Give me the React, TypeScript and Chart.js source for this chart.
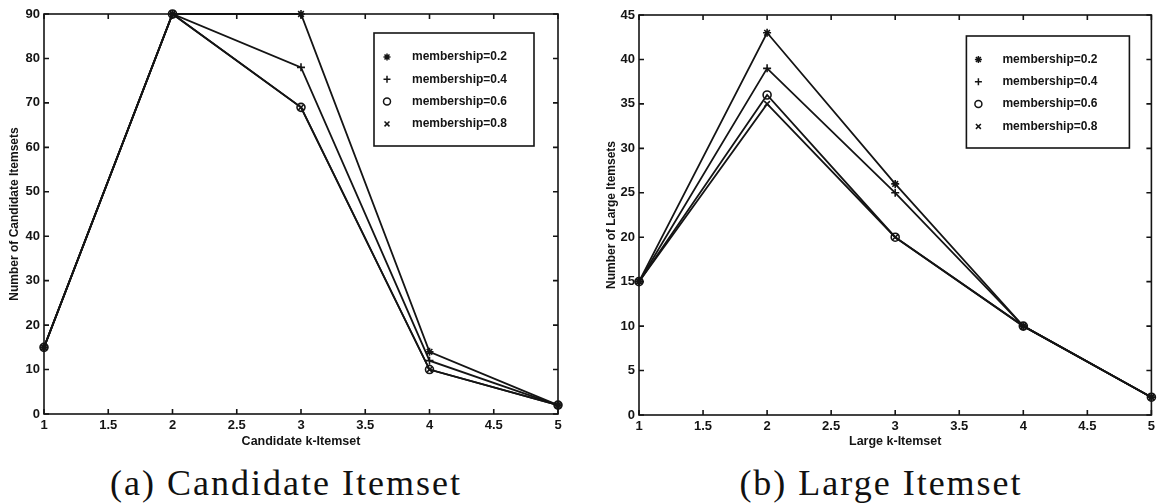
import React, { useEffect, useRef } from "react";
import { Chart, registerables } from "chart.js";
import { drawPoint } from "chart.js/helpers";

Chart.register(...registerables);

// ---------- data ----------
const kValues = [1, 2, 3, 4, 5];
const seriesLabels = ["membership=0.2", "membership=0.4", "membership=0.6", "membership=0.8"];
const markerStyles = ["star", "cross", "circle", "crossRot"];

const candidate02 = [15, 90, 90, 14, 2];
const candidate04 = [15, 90, 78, 12, 2];
const candidate06 = [15, 90, 69, 10, 2];
const candidate08 = [15, 90, 69, 10, 2];

const large02 = [15, 43, 26, 10, 2];
const large04 = [15, 39, 25, 10, 2];
const large06 = [15, 36, 20, 10, 2];
const large08 = [15, 35, 20, 10, 2];

const FONT = "'Liberation Sans', Arial, Helvetica, sans-serif";
const INK = "#141414";

const frameTicks = {
  id: "frameTicks",
  afterDatasetsDraw(chart: any) {
    const { ctx, chartArea: a, scales } = chart;
    const len = 5;
    ctx.save();
    ctx.strokeStyle = INK;
    ctx.lineWidth = 1.6;
    ctx.strokeRect(a.left, a.top, a.right - a.left, a.bottom - a.top);
    ctx.beginPath();
    scales.x.ticks.forEach((t: any) => {
      const px = scales.x.getPixelForValue(t.value);
      ctx.moveTo(px, a.bottom);
      ctx.lineTo(px, a.bottom - len);
      ctx.moveTo(px, a.top);
      ctx.lineTo(px, a.top + len);
    });
    scales.y.ticks.forEach((t: any) => {
      const py = scales.y.getPixelForValue(t.value);
      ctx.moveTo(a.left, py);
      ctx.lineTo(a.left + len, py);
      ctx.moveTo(a.right, py);
      ctx.lineTo(a.right - len, py);
    });
    ctx.stroke();
    ctx.restore();
  },
};

const boxLegend = {
  id: "boxLegend",
  afterDraw(chart: any, _args: any, opts: any) {
    const { ctx, chartArea: a } = chart;
    const left = a.right - opts.right - opts.width;
    const top = a.top + opts.top;
    ctx.save();
    ctx.fillStyle = "#fff";
    ctx.fillRect(left, top, opts.width, opts.height);
    ctx.strokeStyle = INK;
    ctx.lineWidth = 1.6;
    ctx.strokeRect(left, top, opts.width, opts.height);
    chart.data.datasets.forEach((ds: any, i: number) => {
      const y = top + opts.firstY + i * opts.spacing;
      ctx.strokeStyle = INK;
      ctx.fillStyle = "rgba(0,0,0,0)";
      ctx.lineWidth = 1.5;
      drawPoint(ctx, { pointStyle: ds.pointStyle, radius: 3.5, borderWidth: 1.5, rotation: 0 } as any, left + opts.markerX, y);
      ctx.fillStyle = INK;
      ctx.font = `bold 12px ${FONT}`;
      ctx.textBaseline = "middle";
      ctx.textAlign = "left";
      ctx.fillText(ds.label, left + opts.textX, y);
    });
    ctx.restore();
  },
};

type PanelProps = {
  series: number[][];
  yMax: number;
  yStep: number;
  yTitle: string;
  xTitle: string;
  left: number;
  width: number;
  height: number;
  padTop: number;
  padRight: number;
  yAxisWidth: number;
  xAxisHeight: number;
  yTitlePad: number;
  legend: any;
};

function Panel(p: PanelProps) {
  const ref = useRef<HTMLCanvasElement | null>(null);
  useEffect(() => {
    if (!ref.current) return;
    const tickFont = { family: FONT, size: 13, weight: "bold" as const };
    const chart = new Chart(ref.current, {
      type: "line",
      data: {
        datasets: p.series.map((vals, i) => ({
          label: seriesLabels[i],
          data: kValues.map((k, j) => ({ x: k, y: vals[j] })),
          borderColor: INK,
          borderWidth: 1.8,
          pointStyle: markerStyles[i] as any,
          pointRadius: 4,
          pointBorderColor: INK,
          pointBackgroundColor: "rgba(0,0,0,0)",
          pointBorderWidth: 1.6,
          fill: false,
          tension: 0,
          clip: false as any,
        })),
      },
      options: {
        responsive: false,
        animation: false,
        events: [],
        layout: { padding: { top: p.padTop, right: p.padRight, left: 0, bottom: 0 } },
        plugins: {
          legend: { display: false },
          tooltip: { enabled: false },
          boxLegend: p.legend,
        } as any,
        scales: {
          x: {
            type: "linear",
            min: 1,
            max: 5,
            ticks: {
              stepSize: 0.5,
              autoSkip: false,
              maxRotation: 0,
              color: INK,
              font: tickFont,
              padding: 4,
              callback: (v: any) => String(v),
            },
            grid: { display: false, drawTicks: false },
            border: { display: false },
            title: {
              display: true,
              text: p.xTitle,
              color: INK,
              font: { family: FONT, size: 12.5, weight: "bold" },
              padding: { top: 0, bottom: 11 },
            },
            afterFit: (s: any) => {
              s.height = p.xAxisHeight;
              s.paddingLeft = 0;
              s.paddingRight = 0;
            },
          },
          y: {
            type: "linear",
            min: 0,
            max: p.yMax,
            ticks: {
              stepSize: p.yStep,
              autoSkip: false,
              color: INK,
              font: tickFont,
              padding: 4,
            },
            grid: { display: false, drawTicks: false },
            border: { display: false },
            title: {
              display: true,
              text: p.yTitle,
              color: INK,
              font: { family: FONT, size: 12, weight: "bold" },
              padding: { top: p.yTitlePad, bottom: 0 },
            },
            afterFit: (s: any) => {
              s.width = p.yAxisWidth;
              s.paddingTop = 0;
              s.paddingBottom = 0;
            },
          },
        } as any,
      },
      plugins: [frameTicks, boxLegend] as any,
    });
    return () => chart.destroy();
  }, []);
  return (
    <canvas
      ref={ref}
      width={p.width}
      height={p.height}
      style={{ position: "absolute", left: p.left, top: 0, width: p.width, height: p.height }}
    />
  );
}

const captionStyle: React.CSSProperties = {
  position: "absolute",
  top: 462,
  height: 42,
  lineHeight: "42px",
  fontFamily: "'Liberation Serif', 'Times New Roman', serif",
  fontSize: 36,
  letterSpacing: 2,
  color: "#111",
  textAlign: "center",
  whiteSpace: "nowrap",
};

export default function App() {
  return (
    <div style={{ position: "absolute", left: 0, top: 0, width: 1157, height: 503, background: "#fff", overflow: "hidden" }}>
      <Panel
        series={[candidate02, candidate04, candidate06, candidate08]}
        yMax={90}
        yStep={10}
        yTitle="Number of Candidate Itemsets"
        xTitle="Candidate k-Itemset"
        left={0}
        width={580}
        height={460}
        padTop={14}
        padRight={22}
        yAxisWidth={44}
        xAxisHeight={46}
        yTitlePad={7}
        legend={{ right: 24, top: 19, width: 160, height: 113, firstY: 24, spacing: 22.3, markerX: 13, textX: 38 }}
      />
      <Panel
        series={[large02, large04, large06, large08]}
        yMax={45}
        yStep={5}
        yTitle="Number of Large Itemsets"
        xTitle="Large k-Itemset"
        left={580}
        width={577}
        height={460}
        padTop={15}
        padRight={5}
        yAxisWidth={59}
        xAxisHeight={45}
        yTitlePad={24}
        legend={{ right: 22, top: 21, width: 163, height: 112, firstY: 23.5, spacing: 22.3, markerX: 12, textX: 36 }}
      />
      <div style={{ ...captionStyle, left: 86, width: 400 }}>(a) Candidate Itemset</div>
      <div style={{ ...captionStyle, left: 681, width: 400 }}>(b) Large Itemset</div>
    </div>
  );
}
